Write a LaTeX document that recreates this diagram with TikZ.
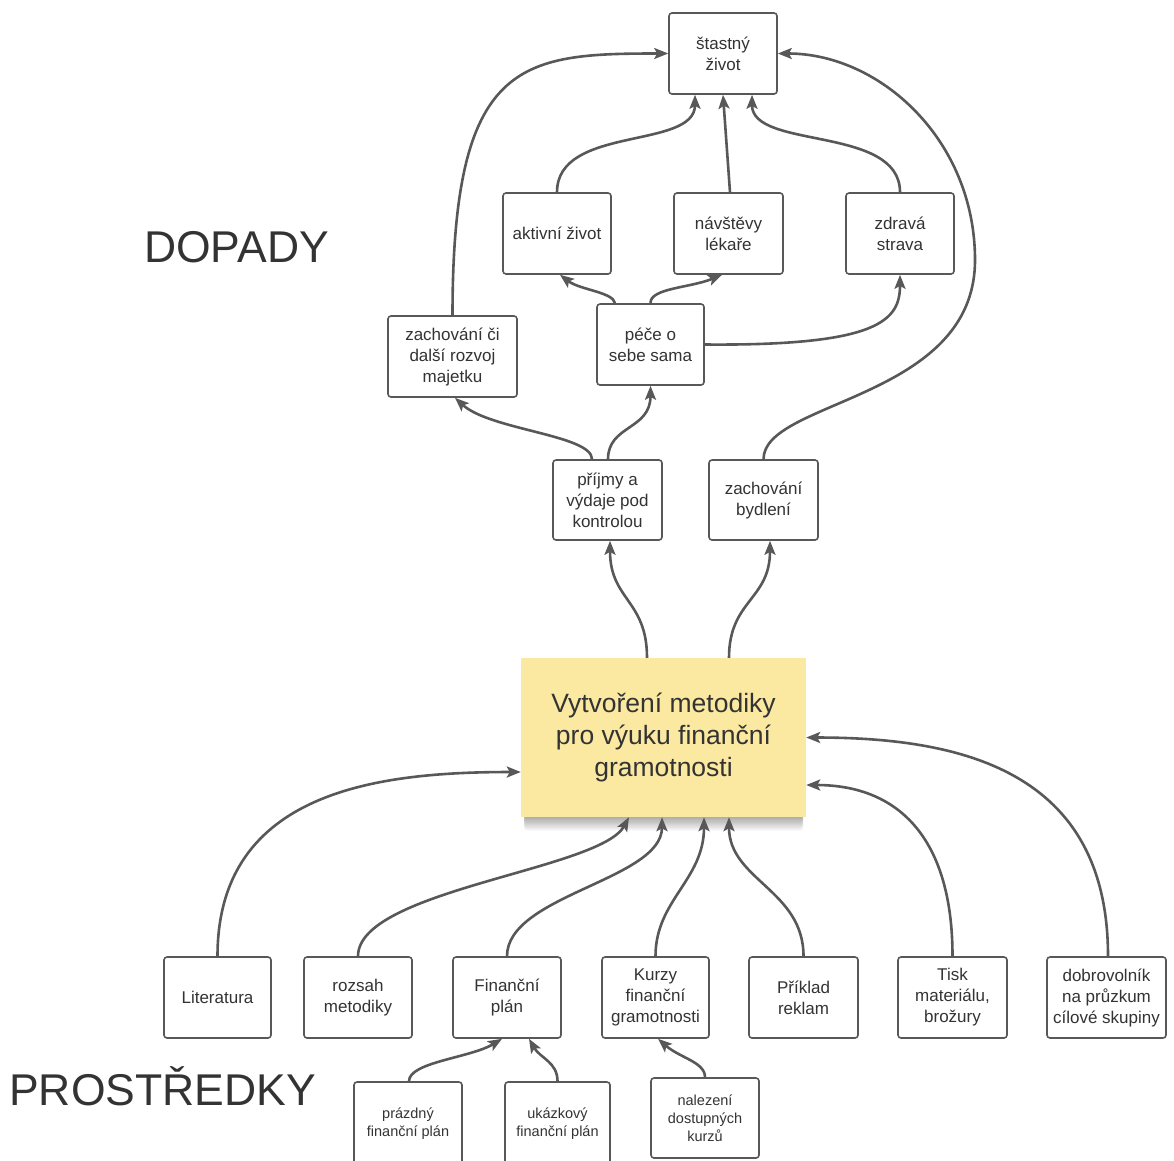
\documentclass[tikz,border=0pt]{standalone}
\usepackage{fontspec}
\setmainfont{Liberation Sans}
\usetikzlibrary{arrows.meta}
\definecolor{txt}{HTML}{333333}
\definecolor{ln}{HTML}{585858}
\definecolor{yel}{HTML}{FBE9A1}
\begin{document}
\begin{tikzpicture}[x=1pt,y=-1pt,
  box/.style={draw=ln, line width=1.6pt, rounded corners=3pt, fill=white, inner sep=0pt,
    align=center, text=txt, font=\fontsize{17}{21}\selectfont},
  sbox/.style={box, font=\fontsize{14.5}{18}\selectfont},
  conn/.style={draw=ln, line width=2.6pt, -{Stealth[length=14pt,width=11pt,inset=3pt]}},
  lbl/.style={text=txt, font=\fontsize{44.5}{50}\selectfont, inner sep=0pt, anchor=base west}]
\useasboundingbox (0,0) rectangle (1174,1160);

% labels
\node[lbl] (dopady) at (144,262) {DOPADY};
\node[lbl] (prostredky) at (9,1105) {PROSTŘEDKY};

% top part
\node[box, minimum width=108pt, minimum height=81pt] (life) at (723,53.5) {štastný\\život};
\node[box, minimum width=108pt, minimum height=81pt] (akt) at (557,233.5) {aktivní život};
\node[box, minimum width=109pt, minimum height=81pt] (nav) at (728.5,233.5) {návštěvy\\lékaře};
\node[box, minimum width=108pt, minimum height=81pt] (zdr) at (900,233.5) {zdravá\\strava};
\node[box, minimum width=129pt, minimum height=81pt] (maj) at (452.5,356.5) {zachování či\\další rozvoj\\majetku};
\node[box, minimum width=107pt, minimum height=81pt] (pece) at (650.5,344.5) {péče o\\sebe sama};
\node[box, minimum width=109pt, minimum height=80pt] (prij) at (607.5,500) {příjmy a\\výdaje pod\\kontrolou};
\node[box, minimum width=109pt, minimum height=80pt] (byd) at (763.5,500) {zachování\\bydlení};

% central box with soft shadow
\foreach \k in {1,...,12}
  \fill[black, opacity=0.035, rounded corners=3pt] (524,664) rectangle (803,815+1.3*\k);
\node[fill=yel, minimum width=285pt, minimum height=159pt, inner sep=0pt, align=center,
  text=txt, font=\fontsize{26.5}{32}\selectfont] (main) at (663.5,737.5)
  {Vytvoření metodiky\\pro výuku finanční\\gramotnosti};

% bottom row
\node[box, minimum width=107pt, minimum height=81pt] (lit) at (217.5,997.5) {Literatura};
\node[box, minimum width=108pt, minimum height=81pt] (roz) at (358,997.5) {rozsah\\metodiky};
\node[box, minimum width=108pt, minimum height=81pt] (fin) at (507,997.5) {Finanční\\plán};
\node[box, minimum width=107pt, minimum height=81pt] (kur) at (655.5,997.5) {Kurzy\\finanční\\gramotnosti};
\node[box, minimum width=109pt, minimum height=81pt] (pri) at (803.5,997.5) {Příklad\\reklam};
\node[box, minimum width=109pt, minimum height=81pt] (tisk) at (952.5,997.5) {Tisk\\materiálu,\\brožury};
\node[box, minimum width=119pt, minimum height=81pt] (dob) at (1106.5,997.5) {dobrovolník\\na průzkum\\cílové skupiny};

% small boxes
\node[sbox, minimum width=108pt, minimum height=84pt] (praz) at (408,1124) {prázdný\\finanční plán};
\node[sbox, minimum width=105pt, minimum height=84pt] (ukaz) at (557.5,1124) {ukázkový\\finanční plán};
\node[sbox, minimum width=108pt, minimum height=80pt] (nal) at (705,1118) {nalezení\\dostupných\\kurzů};

% connectors - top
\draw[conn] (maj.north) .. controls (452.5,60) and (520,53.5) .. (life.west);
\draw[conn] (akt.north) .. controls (557,125) and (695,150) .. ([xshift=-28pt]life.south);
\draw[conn] ([xshift=1.5pt]nav.north) -- (life.south);
\draw[conn] (zdr.north) .. controls (900,125) and (752,150) .. ([xshift=29pt]life.south);
\draw[conn] ([xshift=-35.5pt]pece.north) .. controls (613,292) and (580,290) .. ([xshift=3pt]akt.south);
\draw[conn] (pece.north) .. controls (650,288) and (690,288) .. ([xshift=-6.5pt]nav.south);
\draw[conn] (pece.east) .. controls (880,346) and (900,320) .. (zdr.south);
\draw[conn] (byd.north) .. controls (763.5,400) and (975,400) .. (975,260)
  .. controls (975,140) and (880,53.5) .. (life.east);
\draw[conn] ([xshift=-15.5pt]prij.north) .. controls (592,435) and (490,430) .. ([xshift=2.5pt]maj.south);
\draw[conn] ([xshift=0.5pt]prij.north) .. controls (608,425) and (650.5,430) .. (pece.south);
\draw[conn] ([xshift=-16.5pt]main.north) .. controls (647,600) and (610,600) .. ([xshift=2.5pt]prij.south);
\draw[conn] ([xshift=65.5pt]main.north) .. controls (729,600) and (770,600) .. ([xshift=6.5pt]byd.south);

% connectors - bottom
\draw[conn] (lit.north) .. controls (217.5,790) and (380,772) .. ([yshift=-34.5pt]main.west);
\draw[conn] (roz.north) .. controls (358,890) and (600,870) .. ([xshift=-34.5pt]main.south);
\draw[conn] (fin.north) .. controls (507,895) and (662,880) .. ([xshift=-1.5pt]main.south);
\draw[conn] (kur.north) .. controls (655.5,900) and (704,880) .. ([xshift=40.5pt]main.south);
\draw[conn] (pri.north) .. controls (803.5,890) and (729,880) .. ([xshift=65.5pt]main.south);
\draw[conn] (tisk.north) .. controls (952.5,840) and (900,785) .. ([yshift=-47.5pt]main.east);
\draw[conn] ([xshift=1.5pt]dob.north) .. controls (1108,770) and (960,737.5) .. (main.east);
\draw[conn] ([xshift=1pt]praz.north) .. controls (409,1062) and (470,1058) .. ([xshift=-5pt]fin.south);
\draw[conn] (ukaz.north) .. controls (557.5,1062) and (540,1058) .. ([xshift=22pt]fin.south);
\draw[conn] (nal.north) .. controls (705,1062) and (680,1058) .. ([xshift=2.5pt]kur.south);
\end{tikzpicture}
\end{document}
